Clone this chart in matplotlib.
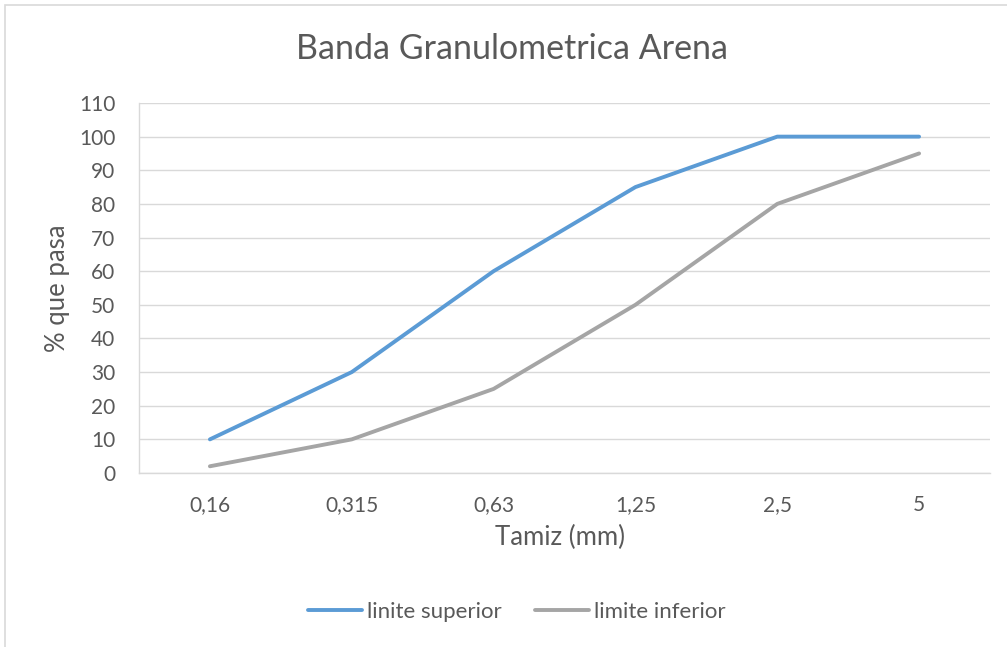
import matplotlib
matplotlib.use("Agg")
import matplotlib.pyplot as plt
from matplotlib.patches import Rectangle

categories = ["0,16", "0,315", "0,63", "1,25", "2,5", "5"]
limite_superior = [10, 30, 60, 85, 100, 100]
limite_inferior = [2, 10, 25, 50, 80, 95]
yticks = list(range(0, 111, 10))

plt.rcParams['font.family'] = ['Lato', 'DejaVu Sans']
txt = '#595959'
W, H = 1007, 647

fig = plt.figure(figsize=(10.07, 6.47), dpi=100)
fig.patches.append(Rectangle((5/W, -0.1), 1.2, 1 - 5/H + 0.1, transform=fig.transFigure,
                             fill=False, edgecolor='#d9d9d9', lw=1.2))
ax = fig.add_axes([139/W, 1 - 473/H, (990-139)/W, (473-103)/H])

x = list(range(len(categories)))
ax.plot(x, limite_superior, color='#5b9bd5', lw=2.8, label='linite superior', solid_capstyle='round')
ax.plot(x, limite_inferior, color='#a5a5a5', lw=2.8, label='limite inferior', solid_capstyle='round')

ax.set_xlim(-0.5, len(categories) - 0.5)
ax.set_ylim(0, 110)
ax.set_yticks(yticks)
ax.set_yticklabels([str(v) for v in yticks])
ax.set_xticks(x)
ax.set_xticklabels(categories)
ax.yaxis.grid(True, color='#d9d9d9', lw=1)
ax.set_axisbelow(True)
for s in ['top', 'right']:
    ax.spines[s].set_visible(False)
for s in ['left', 'bottom']:
    ax.spines[s].set_color('#d9d9d9')
    ax.spines[s].set_linewidth(1)
ax.tick_params(axis='both', length=0, labelsize=15, labelcolor=txt)
ax.tick_params(axis='x', pad=16)
ax.tick_params(axis='y', pad=17)

fig.text(560/W, 1 - 545/H, 'Tamiz (mm)', ha='center', va='baseline', fontsize=18.5, color=txt)
fig.text(57/W, 1 - 288/H, '% que pasa', ha='center', va='center', rotation=90,
         fontsize=18.5, color=txt)
fig.text(512.5/W, 1 - 59/H, 'Banda Granulometrica Arena', ha='center', va='baseline',
         fontsize=24.5, color=txt)

leg = fig.legend(loc='center', bbox_to_anchor=(516.5/W, 1 - 612/H), ncol=2, frameon=False,
                 fontsize=16, handlelength=2.45, columnspacing=1.5, handletextpad=0.2)
for t in leg.get_texts():
    t.set_color(txt)

fig.savefig('out.png', dpi=100)
